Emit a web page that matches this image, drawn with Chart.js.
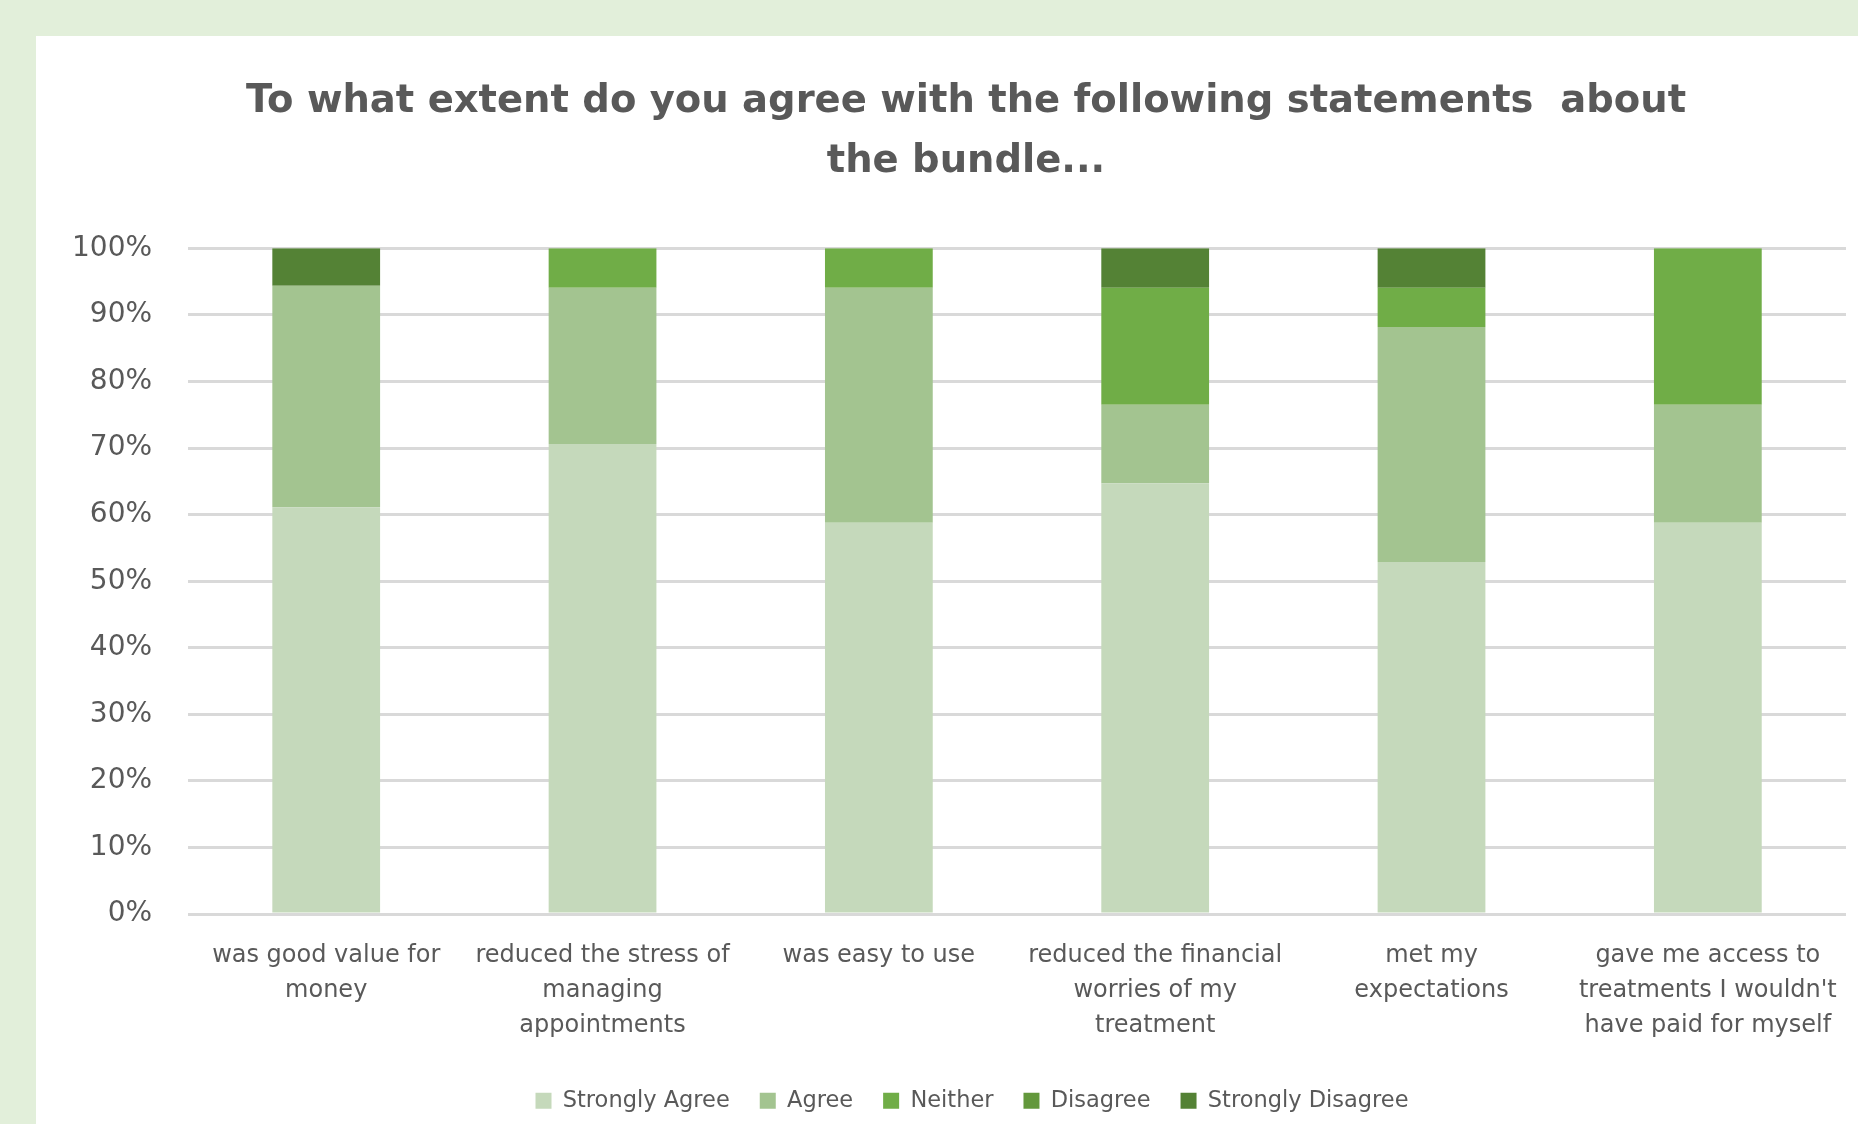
<!DOCTYPE html>
<html>
<head>
<meta charset="utf-8">
<script src="https://cdn.jsdelivr.net/npm/chart.js@4.4.1/dist/chart.umd.min.js"></script>
<style>
  html, body { margin: 0; padding: 0; }
  body { width: 1858px; height: 1124px; overflow: hidden; background: #e2efda; position: relative; }
  #panel { position: absolute; left: 36px; top: 36px; width: 1864px; height: 1088px; background: #fff; }
</style>
</head>
<body>
<div id="panel"><canvas id="surveyChart"></canvas></div>
<script>
// Chart data
const categories = [
  ['was good value for', 'money'],
  ['reduced the stress of', 'managing', 'appointments'],
  ['was easy to use'],
  ['reduced the financial', 'worries of my', 'treatment'],
  ['met my', 'expectations'],
  ['gave me access to', 'treatments I wouldn\'t', 'have paid for myself']
];
const stronglyAgree = [61.1, 70.6, 58.8, 64.7, 52.9, 58.8];
const agree = [33.3, 23.5, 35.3, 11.8, 35.3, 17.7];
const neither = [0, 5.9, 5.9, 17.6, 5.9, 23.5];
const disagree = [0, 0, 0, 0, 0, 0];
const stronglyDisagree = [5.6, 0, 0, 5.9, 5.9, 0];
const yTicks = [0, 10, 20, 30, 40, 50, 60, 70, 80, 90, 100];

const grey = '#595959';
const font = 'DejaVu Sans';

function bar(label, data, color) {
  return {
    label,
    data,
    backgroundColor: color,
    borderWidth: 0,
    barPercentage: 0.39,
    categoryPercentage: 1
  };
}

// Excel centres title and legend on the whole chart object, which runs past the
// right edge of the screenshot, so nudge both boxes a bit to the right
const shiftBoxes = {
  id: 'shiftBoxes',
  afterLayout(chart) {
    const t = chart.titleBlock;
    if (t) { t.left += 25; t.right += 25; }
    const l = chart.legend;
    if (l) { l.left += 31; l.right += 31; }
  }
};

new Chart(document.getElementById('surveyChart'), {
  type: 'bar',
  data: {
    labels: categories,
    datasets: [
      bar('Strongly Agree', stronglyAgree, '#c5d9bb'),
      bar('Agree', agree, '#a3c490'),
      bar('Neither', neither, '#70ad47'),
      bar('Disagree', disagree, '#63983c'),
      bar('Strongly Disagree', stronglyDisagree, '#548235')
    ]
  },
  plugins: [shiftBoxes],
  options: {
    responsive: true,
    maintainAspectRatio: false,
    animation: false,
    layout: { padding: { left: 0, right: 54, top: 0, bottom: 2 } },
    plugins: {
      title: {
        display: true,
        text: ['To what extent do you agree with the following statements  about', 'the bundle...'],
        color: grey,
        font: { family: font, size: 38.5, weight: 'bold', lineHeight: 1.55 },
        padding: { top: 36, bottom: 57 }
      },
      legend: {
        position: 'bottom',
        labels: {
          color: grey,
          font: { family: font, size: 22.5 },
          boxWidth: 16,
          boxHeight: 16,
          padding: 30
        }
      },
      tooltip: { enabled: false }
    },
    scales: {
      x: {
        stacked: true,
        grid: { display: false },
        border: { display: false },
        ticks: {
          color: grey,
          font: { family: font, size: 24, lineHeight: 1.45 },
          padding: 16.5,
          maxRotation: 0,
          autoSkip: false
        }
      },
      y: {
        stacked: true,
        min: 0,
        max: 100,
        afterBuildTicks: axis => { axis.ticks = yTicks.map(v => ({ value: v })); },
        grid: { color: '#d9d9d9', lineWidth: 3, drawTicks: false },
        border: { display: false },
        ticks: {
          color: grey,
          font: { family: font, size: 28 },
          padding: 36,
          callback: v => v + '%'
        }
      }
    }
  }
});
</script>
</body>
</html>
